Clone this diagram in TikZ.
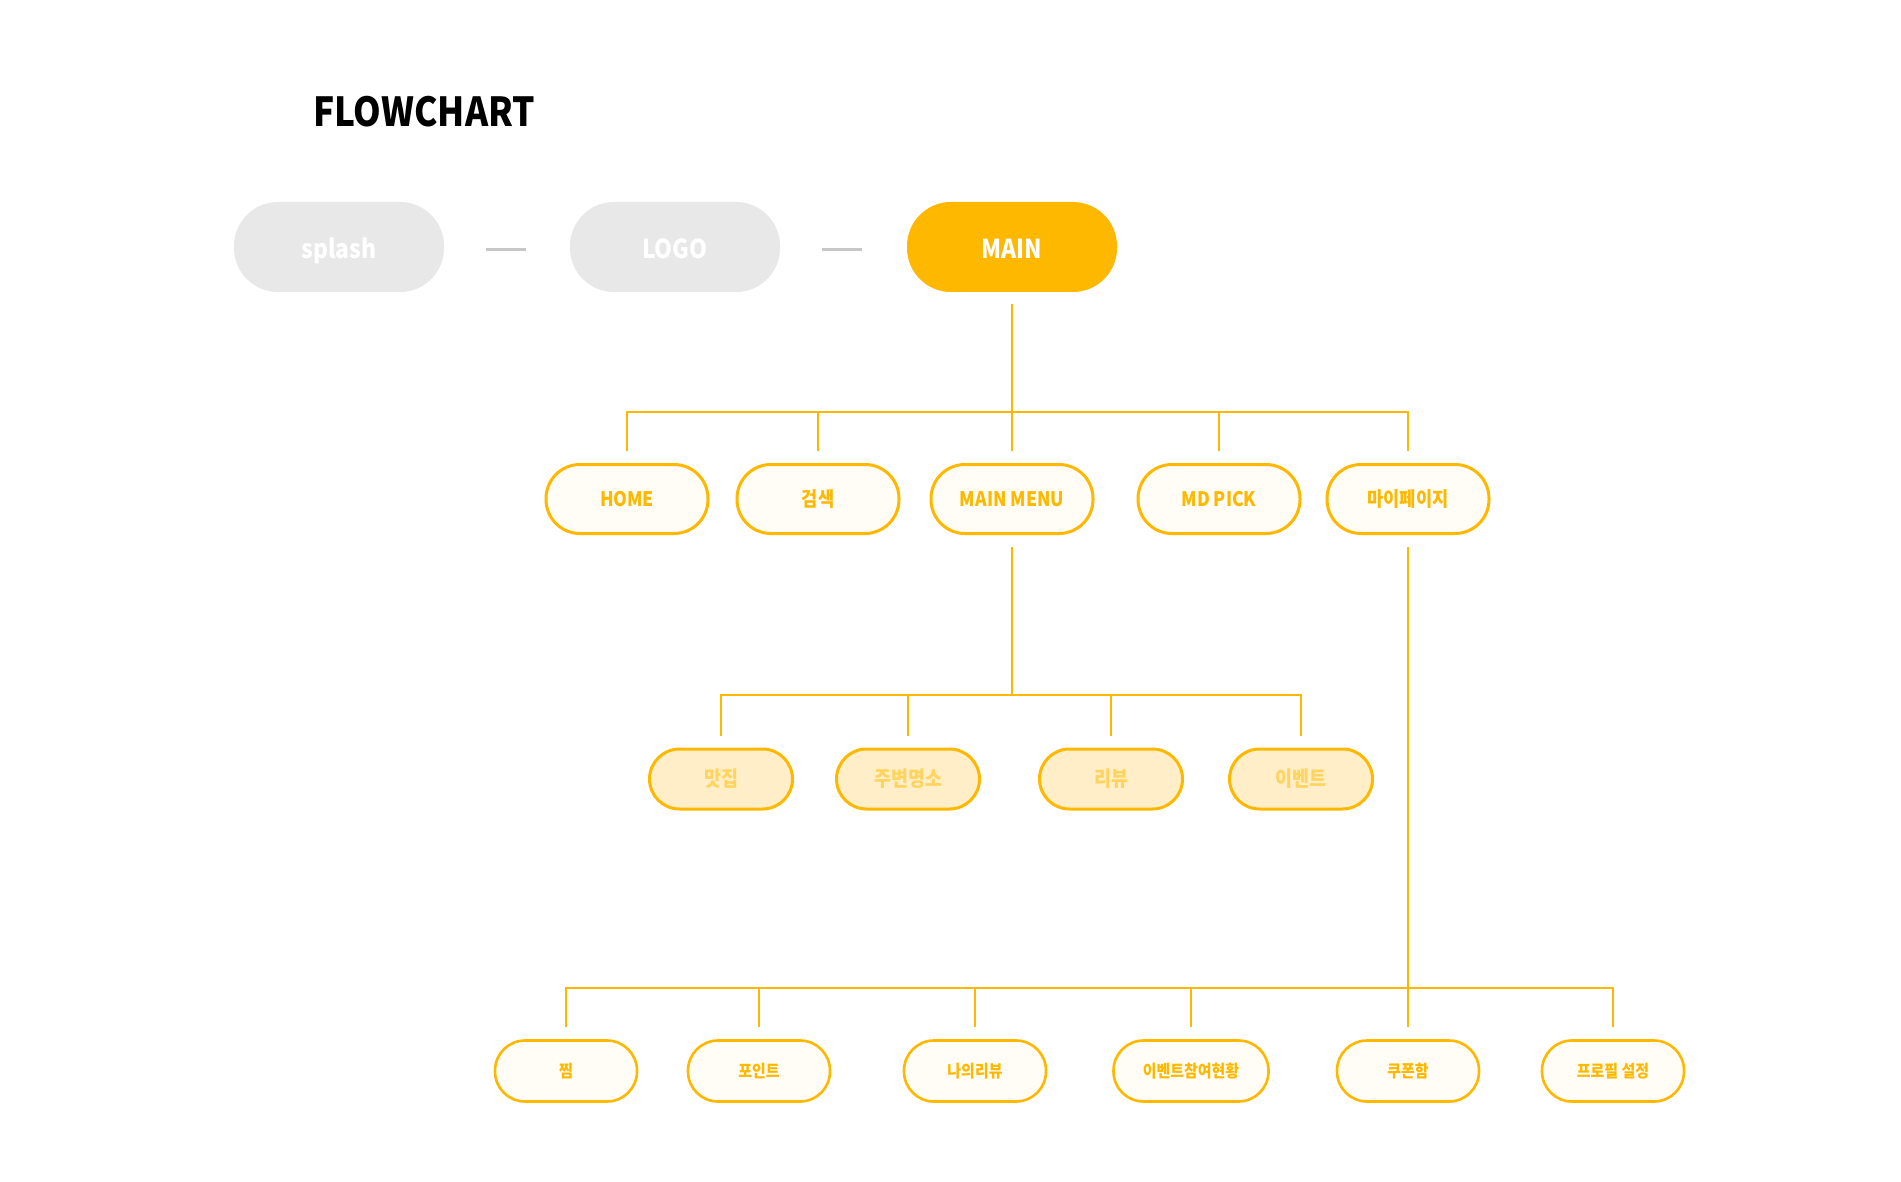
\documentclass[tikz,border=0pt]{standalone}
\usepackage{fontspec}
\usepackage{tikz}
\usetikzlibrary{positioning}
\newfontfamily\krfont{Noto Sans CJK KR}[FakeStretch=0.88]
\definecolor{amber}{RGB}{255,184,0}
\definecolor{lightgray}{RGB}{232,232,232}
\definecolor{dashgray}{RGB}{200,200,200}
\definecolor{cream}{RGB}{255,253,246}
\definecolor{paleamber}{RGB}{255,238,200}
\definecolor{paletext}{RGB}{255,212,94}
\tikzset{
    pill/.style={rectangle,align=center,inner sep=0pt,font=\krfont\bfseries},
    topbox/.style={pill,minimum width=105pt,minimum height=45pt,rounded corners=22pt,text height=1.2em,text depth=0pt,font=\krfont\bfseries\fontsize{13}{13}\selectfont},
    menubox/.style={pill,draw=amber,fill=cream,text=amber,line width=1.5pt,minimum width=81pt,minimum height=34.5pt,rounded corners=17pt,font=\krfont\bfseries\fontsize{10}{10}\selectfont},
    subbox/.style={pill,draw=amber,fill=paleamber,text=paletext,line width=1.5pt,minimum width=71.5pt,minimum height=30pt,rounded corners=15pt,font=\krfont\bfseries\fontsize{10.5}{10.5}\selectfont},
    leafbox/.style={pill,draw=amber,fill=cream,text=amber,line width=1.3pt,minimum width=71pt,minimum height=30.5pt,rounded corners=15pt,font=\krfont\bfseries\fontsize{8.5}{8.5}\selectfont},
    link/.style={draw=amber,line width=1.4pt},
    elbow/.style={to path={-| (\tikztotarget)}}
}
\begin{document}
\begin{tikzpicture}[x=0.5pt,y=-0.5pt]
    \useasboundingbox[fill=white] (0,0) rectangle (1901,1182);
    \node[anchor=west,font=\krfont\bfseries\fontsize{20}{20}\selectfont] (title) at (306,112) {FLOWCHART};
    % top row
    \node[topbox,fill=lightgray,text=white] (splash) at (339,247) {splash};
    \node[topbox,fill=lightgray,text=white] (logo)   at (675,247) {LOGO};
    \node[topbox,fill=amber,text=white]     (main)   at (1012,247) {MAIN};
    \draw[dashgray,line width=1.5pt] (splash.east) ++(21pt,-1.5pt) coordinate (d1) -- ++(20pt,0);
    \draw[dashgray,line width=1.5pt] (logo.east) ++(21pt,-1.5pt) coordinate (d2) -- ++(20pt,0);
    % menu row
    \coordinate (j1) at (1012,412);
    \node[menubox] (home)   at (627,499)  {HOME};
    \node[menubox] (search) at (818,499)  {검색};
    \node[menubox] (menu)   at (1012,499) {MAIN MENU};
    \node[menubox] (mdpick) at (1219,499) {MD PICK};
    \node[menubox] (mypage) at (1408,499) {마이페이지};
    % main menu row
    \coordinate (j2) at (1012,695);
    \node[subbox] (food)   at (721,779)  {맛집};
    \node[subbox] (around) at (908,779)  {주변명소};
    \node[subbox] (review) at (1111,779) {리뷰};
    \node[subbox] (event)  at (1301,779) {이벤트};
    % my page row
    \coordinate (j3) at (1408,988);
    \node[leafbox] (wish)    at (566,1071)  {찜};
    \node[leafbox] (point)   at (759,1071)  {포인트};
    \node[leafbox] (myrev)   at (975,1071)  {나의리뷰};
    \node[leafbox,minimum width=77.5pt] (evjoin) at (1191,1071) {이벤트참여현황};
    \node[leafbox] (coupon)  at (1408,1071) {쿠폰함};
    \node[leafbox] (profile) at (1613,1071) {프로필 설정};
    \path[link]
        (main)  edge[shorten <=6pt] (j1)
        (j1)    edge[elbow,shorten >=6pt] (home.north)
        (j1)    edge[elbow,shorten >=6pt] (search.north)
        (j1)    edge[elbow,shorten >=6pt] (menu.north)
        (j1)    edge[elbow,shorten >=6pt] (mdpick.north)
        (j1)    edge[elbow,shorten >=6pt] (mypage.north)
        (menu)  edge[shorten <=6pt] (j2)
        (j2)    edge[elbow,shorten >=6pt] (food.north)
        (j2)    edge[elbow,shorten >=6pt] (around.north)
        (j2)    edge[elbow,shorten >=6pt] (review.north)
        (j2)    edge[elbow,shorten >=6pt] (event.north)
        (mypage) edge[shorten <=6pt] (j3)
        (j3)    edge[elbow,shorten >=6pt] (wish.north)
        (j3)    edge[elbow,shorten >=6pt] (point.north)
        (j3)    edge[elbow,shorten >=6pt] (myrev.north)
        (j3)    edge[elbow,shorten >=6pt] (evjoin.north)
        (j3)    edge[elbow,shorten >=6pt] (coupon.north)
        (j3)    edge[elbow,shorten >=6pt] (profile.north)
    ;
\end{tikzpicture}
\end{document}
